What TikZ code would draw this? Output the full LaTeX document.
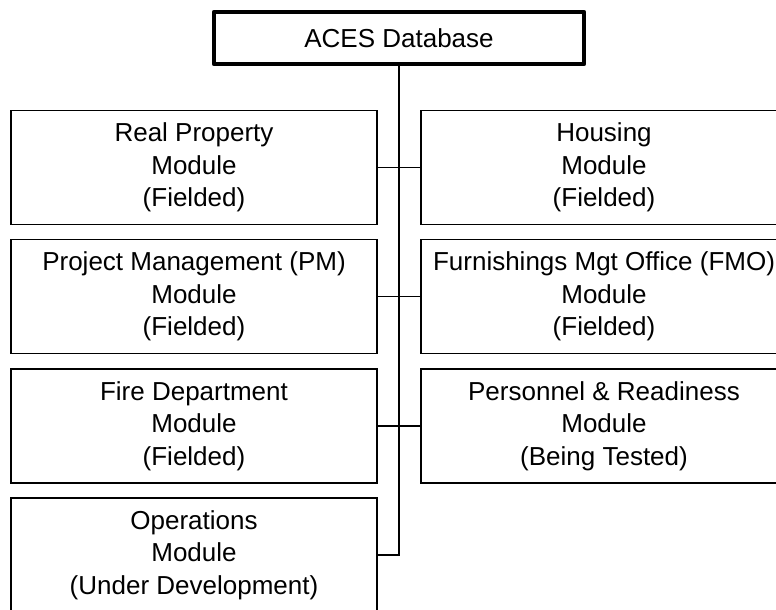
\documentclass[tikz,border=0pt]{standalone}
\usepackage{fontspec}
\setmainfont{Liberation Sans}
\usepackage{tikz}

\begin{document}
\begin{tikzpicture}[x = 1pt, y = 1pt,
  moduleBox/.style = {draw, line width = 1.4pt, minimum width = 366pt,
    minimum height = 114pt, align = center, inner sep = 0pt,
    font = \fontsize{26}{32.5}\selectfont},
  dbBox/.style = {draw, line width = 4.5pt, line join = round,
    minimum width = 370pt, minimum height = 52pt, inner sep = 0pt,
    font = \fontsize{26}{32.5}\selectfont}]
  \useasboundingbox (0, 0) rectangle (776, 610);
  \clip (0, 0) rectangle (776, 610);

  \node[dbBox] (db) at (399, 572) {ACES Database};

  \node[moduleBox] (realProp) at (194, 442.5) {Real Property\\Module\\(Fielded)};
  \node[moduleBox] (projMgt) at (194, 313.5) {Project Management (PM)\\Module\\(Fielded)};
  \node[moduleBox] (fireDept) at (194, 184) {Fire Department\\Module\\(Fielded)};
  \node[moduleBox] (operations) at (194, 55) {Operations\\Module\\(Under Development)};

  \node[moduleBox] (housing) at (604, 442.5) {Housing\\Module\\(Fielded)};
  \node[moduleBox] (furnishings) at (604, 313.5) {Furnishings Mgt Office (FMO)\\Module\\(Fielded)};
  \node[moduleBox] (personnel) at (604, 184) {Personnel \& Readiness\\Module\\(Being Tested)};

  \begin{scope}[line width = 1.4pt]
    \draw (db.south) |- (operations.east);
    \draw (realProp.east) -- (housing.west);
    \draw (projMgt.east) -- (furnishings.west);
    \draw (fireDept.east) -- (personnel.west);
  \end{scope}
\end{tikzpicture}
\end{document}
